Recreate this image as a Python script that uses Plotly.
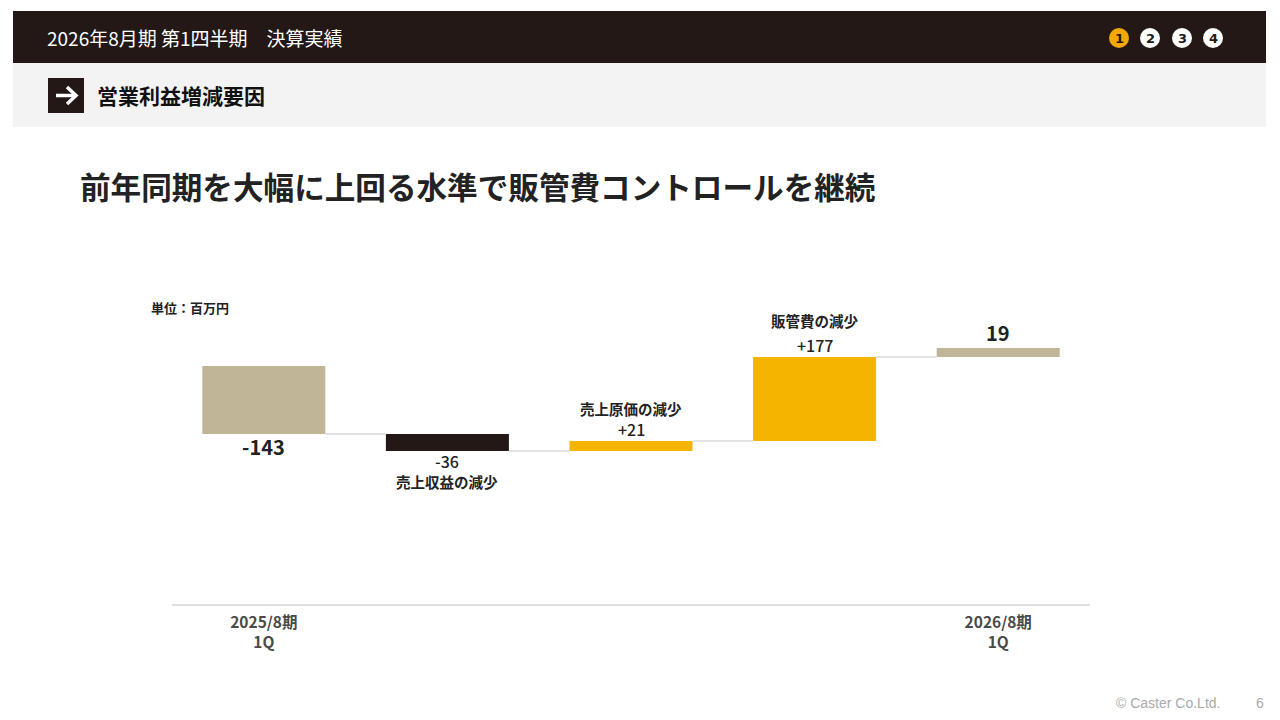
import plotly.graph_objects as go

# ---- data ----
categories = ["2025/8期 1Q", "売上収益の減少", "売上原価の減少", "販管費の減少", "2026/8期 1Q"]
values = [-143, -36, 21, 177, 19]
kinds = ["total", "relative", "relative", "relative", "total"]
tick_labels = ["2025/8期<br>1Q", "", "", "", "2026/8期<br>1Q"]
step_names = ["", "売上収益の減少", "売上原価の減少", "販管費の減少", ""]
bar_colors = ["#C0B597", "#231815", "#F5B400", "#F5B400", "#C0B597"]

FONT = "Noto Sans CJK JP"
DARK = "#231815"

W, H = 1280, 720
L, R, T, B = 172, 1090, 290, 604  # plot area in pixels


def px(x):
    return (x - L) / (R - L)


def py(y):
    return (B - y) / (B - T)


# compute bases (as drawn: bars stacked on the running level)
bases = []
level = 0
for i, (v, k) in enumerate(zip(values, kinds)):
    if k == "total" and i == 0:
        bases.append(0)
        level = v
    else:
        bases.append(level)
        if k == "relative":
            level += v

xs = list(range(len(values)))

fig = go.Figure()

# connectors
half = 0.335
for i in range(len(values) - 1):
    lvl = bases[i] + values[i]
    fig.add_trace(go.Scatter(
        x=[i + half, i + 1 - half], y=[lvl, lvl], mode="lines",
        line=dict(color="#E3E3E3", width=2), hoverinfo="skip", showlegend=False))

fig.add_trace(go.Bar(
    x=xs, y=values, base=bases, marker=dict(color=bar_colors, line=dict(width=0)),
    width=0.67, showlegend=False, hoverinfo="skip"))

annotations = []
for i, (v, k, b) in enumerate(zip(values, kinds, bases)):
    top = max(b, b + v)
    bot = min(b, b + v)
    if k == "total":
        txt = f"<b>{v}</b>"
        f = dict(size=20, color="#222", family=FONT)
        if v < 0:
            annotations.append(dict(x=i, y=bot, yanchor="top", yshift=4, text=txt, font=f, showarrow=False))
        else:
            annotations.append(dict(x=i, y=top, yanchor="bottom", yshift=-1, text=txt, font=f, showarrow=False))
    else:
        txt = f"{v:+d}"
        f = dict(size=16, color="#222", family=FONT, weight=500)
        fn = dict(size=14.5, color="#222", family=FONT, weight=600)
        if v < 0:
            annotations.append(dict(x=i, y=bot, yanchor="top", yshift=4, text=txt, font=f, showarrow=False))
            annotations.append(dict(x=i, y=bot, yanchor="top", yshift=-18, text=step_names[i],
                                    font=fn, showarrow=False))
        else:
            annotations.append(dict(x=i, y=top, yanchor="bottom", yshift=-2, text=txt, font=f, showarrow=False))
            shift = 20 if v < 100 else 24
            annotations.append(dict(x=i, y=top, yanchor="bottom", yshift=shift, text=step_names[i],
                                    font=fn, showarrow=False))

# page texts
annotations += [
    dict(xref="paper", yref="paper", x=px(45), y=py(37), xanchor="left", yanchor="middle",
         text="2026年8月期 第1四半期　決算実績", font=dict(size=19, color="white", family=FONT), showarrow=False),
    dict(xref="paper", yref="paper", x=px(95), y=py(95), xanchor="left", yanchor="middle",
         text="<b>営業利益増減要因</b>", font=dict(size=21, color="#111", family=FONT), showarrow=False),
    dict(xref="paper", yref="paper", x=px(78), y=py(186), xanchor="left", yanchor="middle",
         text="<b>前年同期を大幅に上回る水準で販管費コントロールを継続</b>",
         font=dict(size=30.6, color="#222", family=FONT), showarrow=False),
    dict(xref="paper", yref="paper", x=px(149), y=py(307), xanchor="left", yanchor="middle",
         text="<b>単位：百万円</b>", font=dict(size=13, color="#222", family=FONT), showarrow=False),
    dict(xref="paper", yref="paper", x=px(1222), y=py(703), xanchor="right", yanchor="middle",
         text="© Caster Co.Ltd.", font=dict(size=14, color="#AAAAAA", family="Liberation Sans"), showarrow=False),
    dict(xref="paper", yref="paper", x=px(1260), y=py(703), xanchor="center", yanchor="middle",
         text="6", font=dict(size=14, color="#AAAAAA", family="Liberation Sans"), showarrow=False),
]

shapes = [
    dict(type="rect", xref="paper", yref="paper", x0=px(13), x1=px(1266), y0=py(63), y1=py(11),
         fillcolor=DARK, line=dict(width=0), layer="below"),
    dict(type="rect", xref="paper", yref="paper", x0=px(13), x1=px(1266), y0=py(127), y1=py(63),
         fillcolor="#F3F3F3", line=dict(width=0), layer="below"),
    dict(type="rect", xref="paper", yref="paper", x0=px(48), x1=px(84), y0=py(113), y1=py(78),
         fillcolor=DARK, line=dict(width=0)),
    dict(type="line", xref="paper", yref="paper", x0=px(56), x1=px(75), y0=py(95.5), y1=py(95.5),
         line=dict(color="white", width=3.5)),
    dict(type="path", xref="paper", yref="paper",
         path=f"M {px(67)} {py(87)} L {px(76)} {py(95.5)} L {px(67)} {py(104)}",
         line=dict(color="white", width=3.5)),
]

# page indicator circles
circle_x = [1119, 1150, 1182, 1213]
for j, cx in enumerate(circle_x):
    fill = "#F5A800" if j == 0 else "white"
    shapes.append(dict(type="circle", xref="paper", yref="paper",
                       x0=px(cx - 10), x1=px(cx + 10), y0=py(48), y1=py(28),
                       fillcolor=fill, line=dict(width=0)))
    annotations.append(dict(xref="paper", yref="paper", x=px(cx), y=py(38.5), xanchor="center", yanchor="middle",
                            text=f"<b>{j + 1}</b>", font=dict(size=13, color=DARK, family="DejaVu Sans"),
                            showarrow=False))

fig.update_layout(
    width=W, height=H, autosize=False,
    margin=dict(l=L, r=W - R, t=T, b=H - B, pad=0),
    paper_bgcolor="white", plot_bgcolor="white",
    bargap=0.33, showlegend=False,
    xaxis=dict(range=[-0.5, len(values) - 0.5], tickmode="array", tickvals=xs,
               ticktext=[f"<b>{t}</b>" if t else "" for t in tick_labels],
               showline=True, linecolor="#E0E0E0", linewidth=2, showgrid=False, zeroline=False,
               ticks="", ticklabelstandoff=3,
               tickfont=dict(size=15.5, color="#4A4A4A", family=FONT), fixedrange=True),
    yaxis=dict(range=[-501, 160], visible=False, showgrid=False, zeroline=False, fixedrange=True),
    annotations=annotations, shapes=shapes,
    font=dict(family=FONT),
)

fig.write_html("out.html", config={"displayModeBar": False},
               post_script="document.body.style.margin='0';")
